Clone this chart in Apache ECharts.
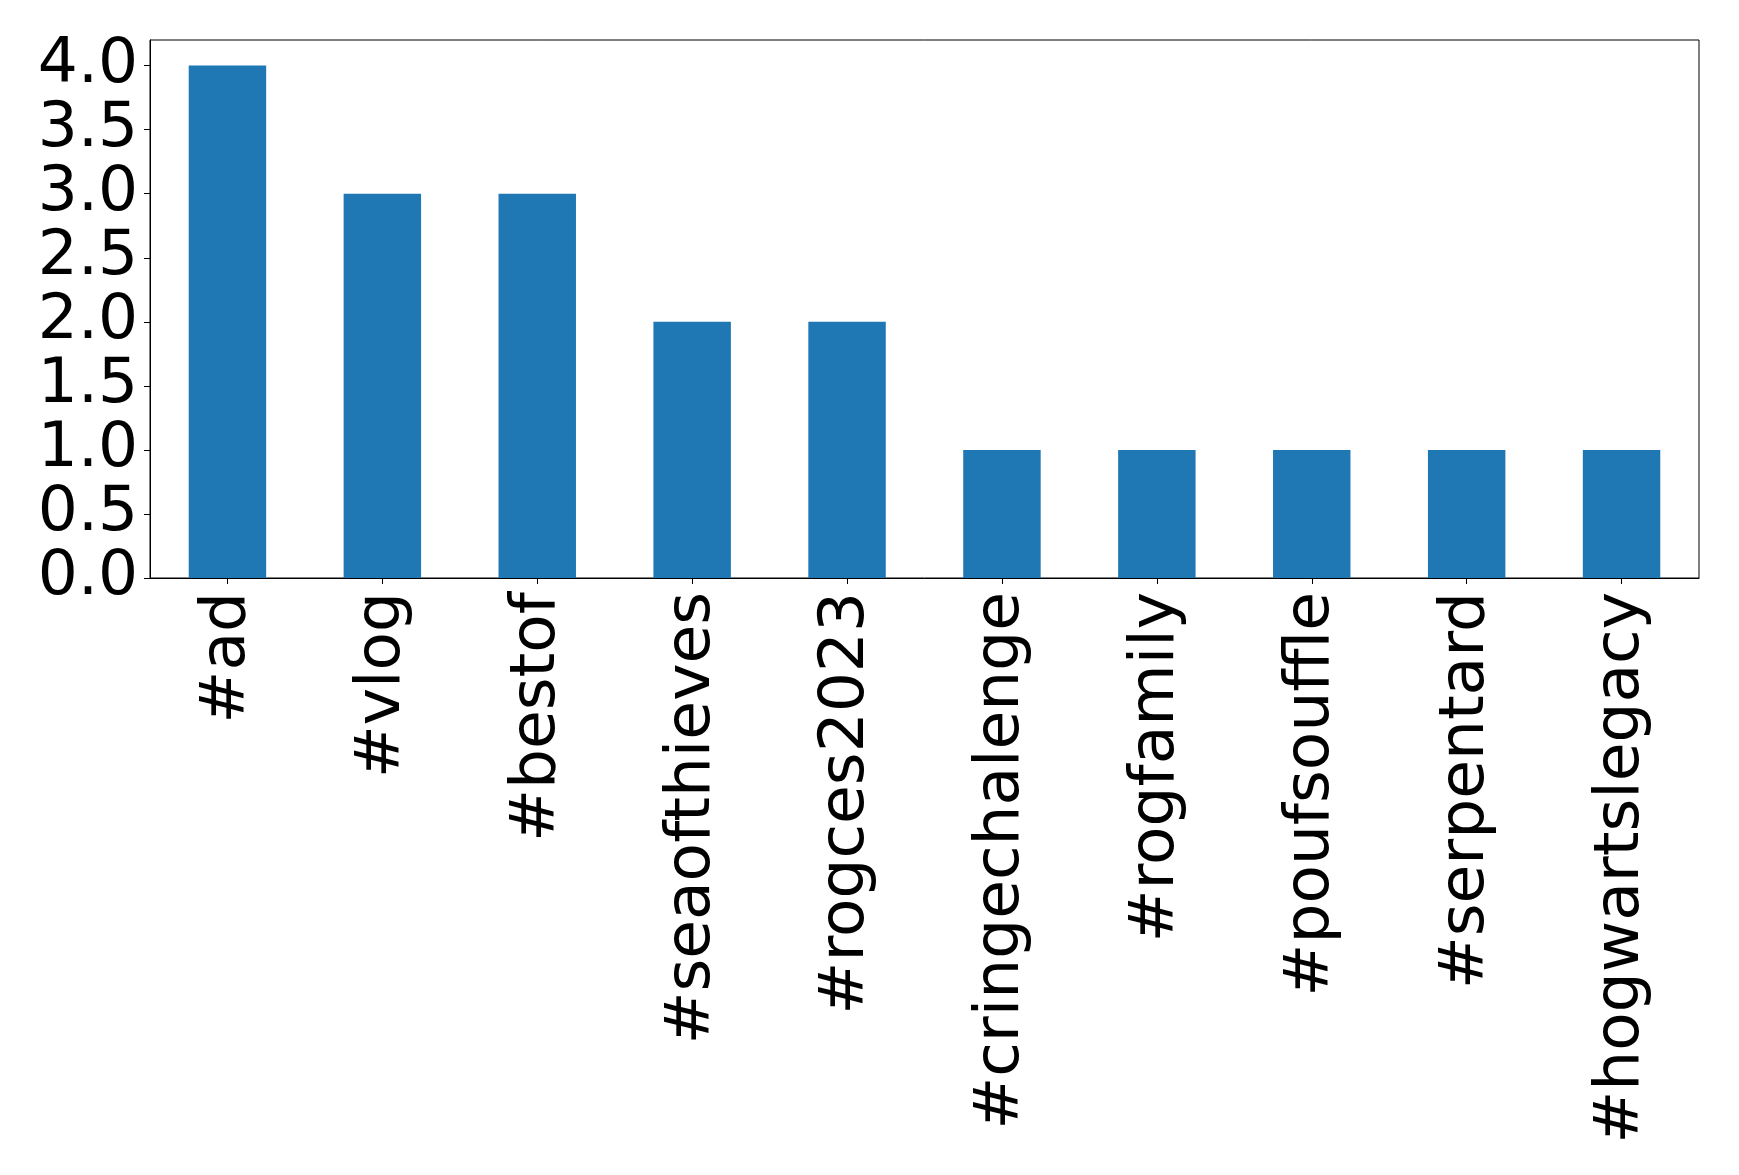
<!DOCTYPE html>
<html>
<head>
<meta charset="utf-8">
<script src="https://cdn.jsdelivr.net/npm/echarts@6/dist/echarts.min.js"></script>
<style>
html,body{margin:0;padding:0;background:#fff;}
#chart{width:1739px;height:1175px;}
</style>
</head>
<body>
<div id="chart"></div>
<script>
const categories = ['#ad', '#vlog', '#bestof', '#seaofthieves', '#rogces2023', '#cringechalenge', '#rogfamily', '#poufsouffle', '#serpentard', '#hogwartslegacy'];
const counts = [4, 3, 3, 2, 2, 1, 1, 1, 1, 1];
const yTicks = [0, 0.5, 1, 1.5, 2, 2.5, 3, 3.5, 4];

const chart = echarts.init(document.getElementById('chart'), null, {renderer: 'canvas'});
chart.setOption({
  animation: false,
  backgroundColor: '#ffffff',
  textStyle: {fontFamily: 'DejaVu Sans'},
  grid: {
    left: 150, right: 40, top: 40, bottom: 597,
    show: true, borderColor: '#000', borderWidth: 1, backgroundColor: 'transparent',
    containLabel: false
  },
  xAxis: {
    type: 'category',
    data: categories,
    boundaryGap: true,
    axisLine: {show: true, lineStyle: {color: '#000', width: 1}},
    axisTick: {show: true, alignWithLabel: true, length: 6, inside: false, lineStyle: {color: '#000', width: 1}},
    axisLabel: {
      rotate: 90, interval: 0, margin: 14,
      color: '#000', fontSize: 63, fontFamily: 'DejaVu Sans'
    },
    splitLine: {show: false}
  },
  yAxis: {
    type: 'value',
    min: 0, max: 4.2, interval: 0.5,
    axisLine: {show: true, lineStyle: {color: '#000', width: 1}},
    axisTick: {show: true, length: 6, inside: false, lineStyle: {color: '#000', width: 1}, customValues: yTicks},
    axisLabel: {
      margin: 12, color: '#000', fontSize: 63, fontFamily: 'DejaVu Sans',
      customValues: yTicks,
      formatter: v => Number(v).toFixed(1)
    },
    splitLine: {show: false}
  },
  series: [{
    type: 'bar',
    data: counts,
    barWidth: '50%',
    itemStyle: {color: '#1f77b4'}
  }]
});
</script>
</body>
</html>
